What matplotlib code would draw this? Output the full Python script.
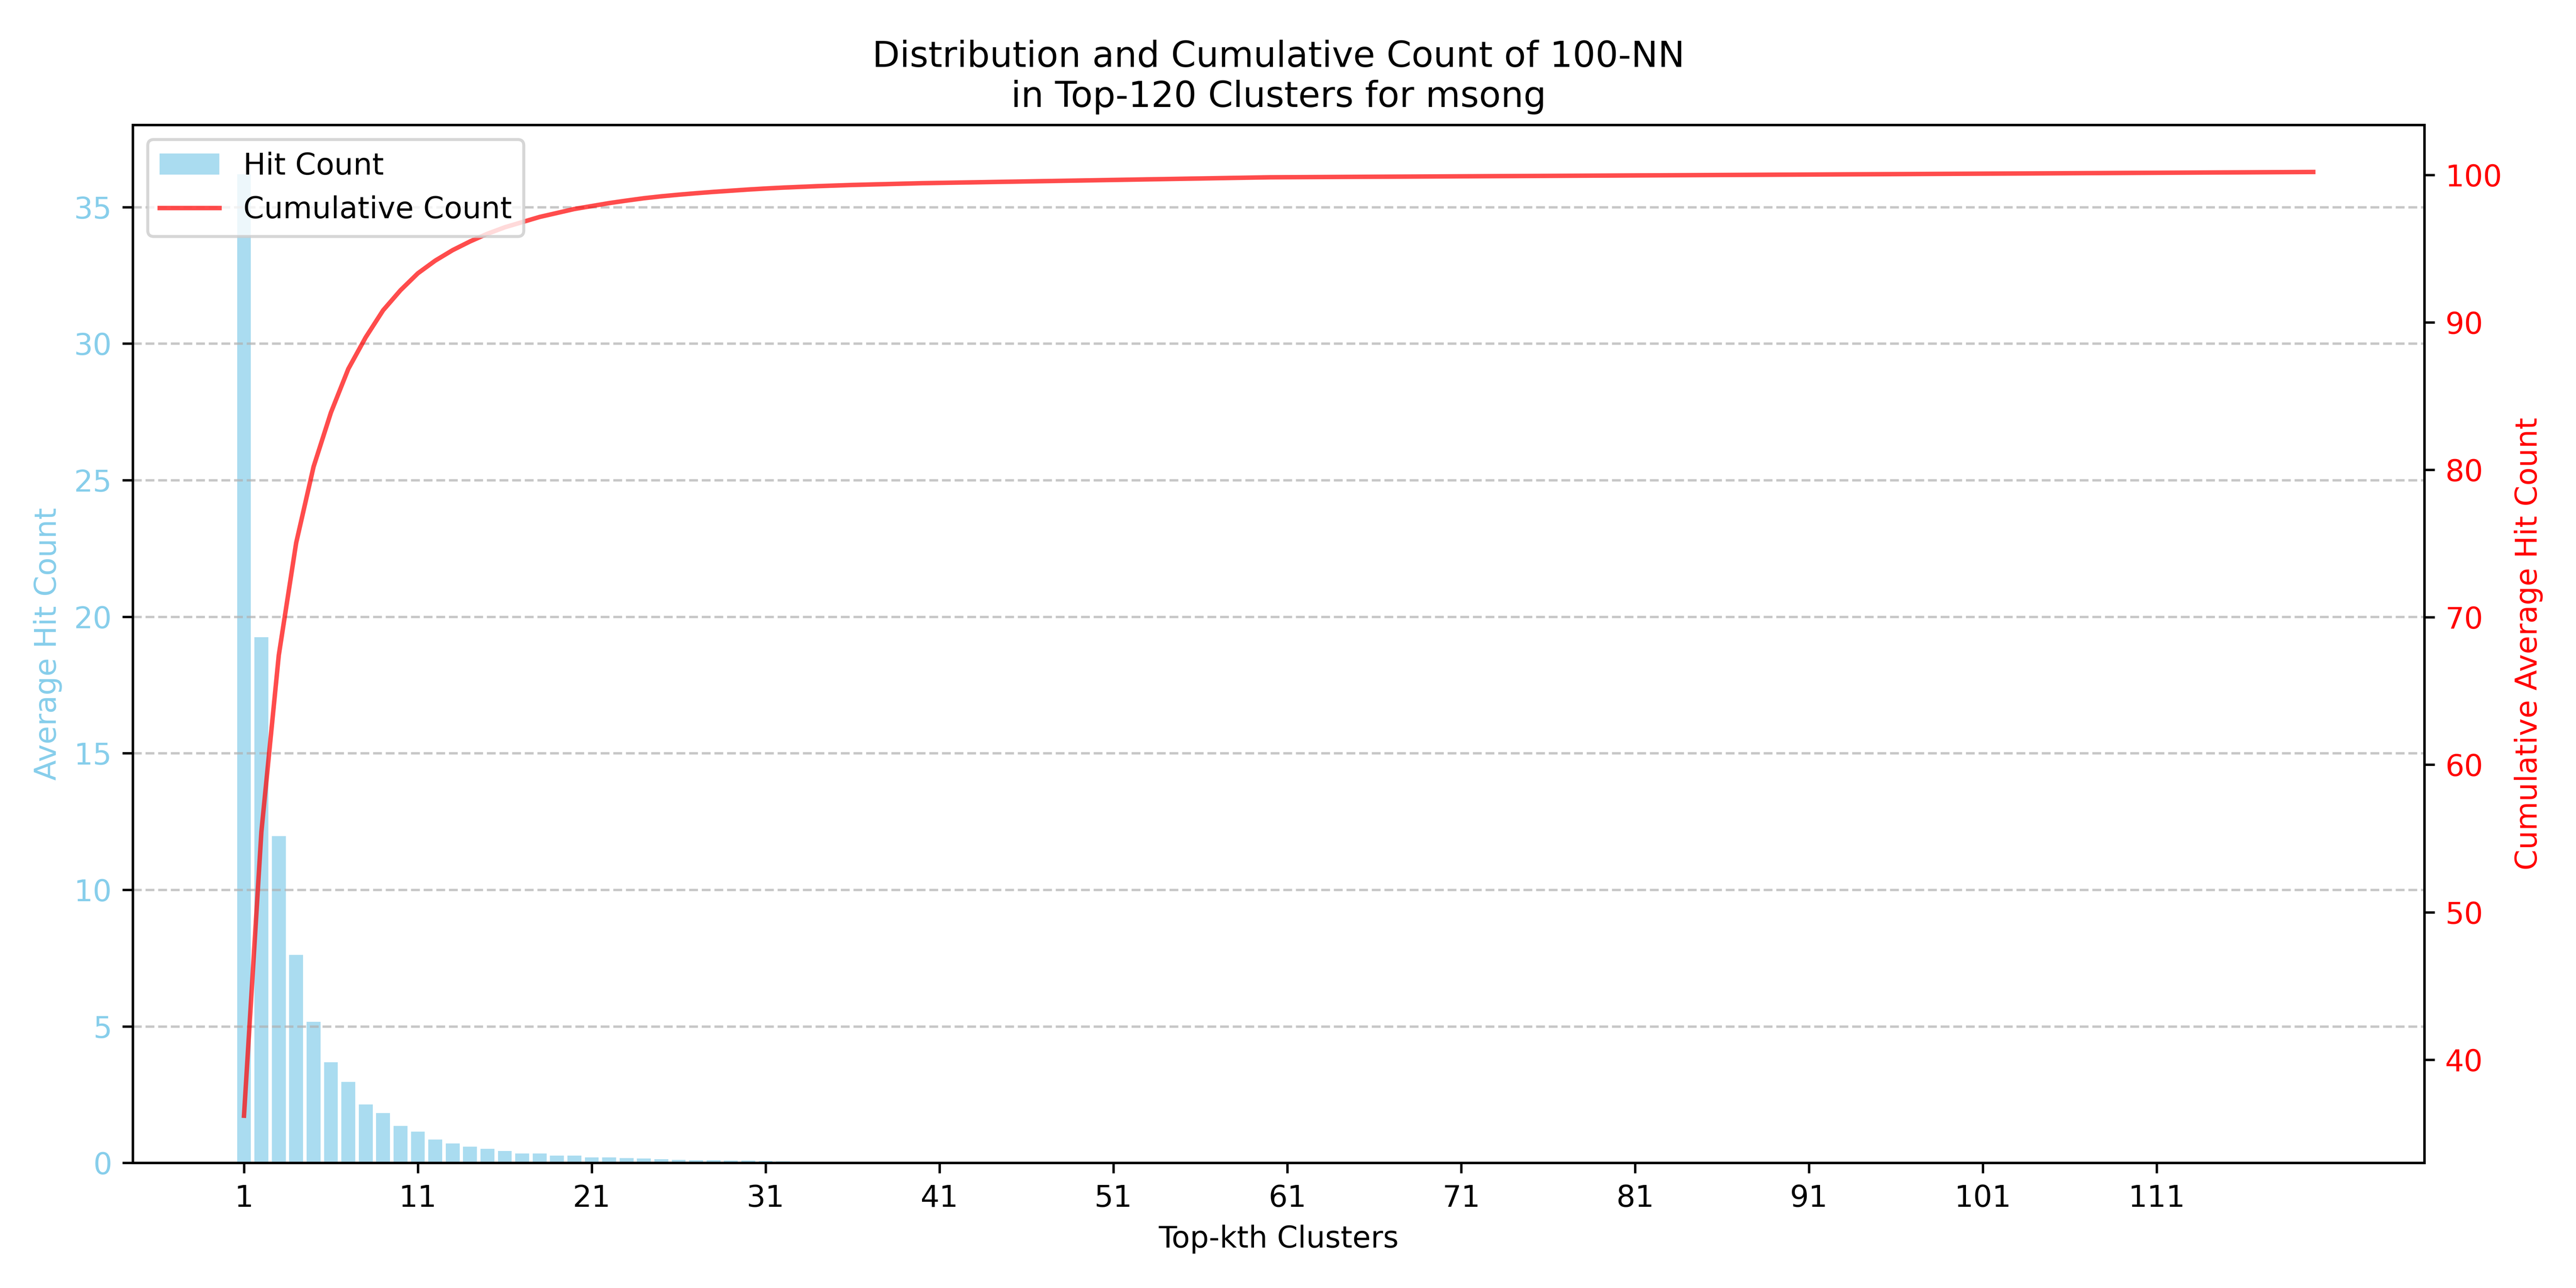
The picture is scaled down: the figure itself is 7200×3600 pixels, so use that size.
import numpy as np
import matplotlib
matplotlib.use("Agg")
import matplotlib.pyplot as plt

# average hit count per top-k cluster
hits_head = [36.2, 19.25, 11.97, 7.62, 5.16, 3.68, 2.96, 2.14, 1.83, 1.36,
             1.15, 0.86, 0.71, 0.59, 0.52, 0.44, 0.35, 0.35, 0.27, 0.27,
             0.20, 0.20, 0.17, 0.16, 0.13, 0.11, 0.10, 0.09, 0.08, 0.08,
             0.07, 0.06, 0.05, 0.05, 0.04, 0.04, 0.03, 0.03, 0.03, 0.03]
hits_mid = [0.02] * 20
hits_tail = [0.006] * 60
hits = np.array(hits_head + hits_mid + hits_tail)
k = np.arange(1, len(hits) + 1)
cum = np.cumsum(hits)
xticks = list(range(1, 121, 10))

fig, ax1 = plt.subplots(figsize=(12, 6))
ax1.bar(k, hits, color="skyblue", alpha=0.7, label="Hit Count")
ax1.set_xlabel("Top-kth Clusters")
ax1.set_ylabel("Average Hit Count", color="skyblue")
ax1.tick_params(axis="y", labelcolor="skyblue")
ax1.set_xticks(xticks)
ax1.grid(axis="y", linestyle="--", alpha=0.7)

ax2 = ax1.twinx()
ax2.plot(k, cum, color="red", alpha=0.7, label="Cumulative Count")
ax2.set_ylabel("Cumulative Average Hit Count", color="red")
ax2.tick_params(axis="y", labelcolor="red")

h1, l1 = ax1.get_legend_handles_labels()
h2, l2 = ax2.get_legend_handles_labels()
ax2.legend(h1 + h2, l1 + l2, loc="upper left")

plt.title("Distribution and Cumulative Count of 100-NN\nin Top-120 Clusters for msong")
fig.tight_layout()
fig.savefig("out.png", dpi=600)
